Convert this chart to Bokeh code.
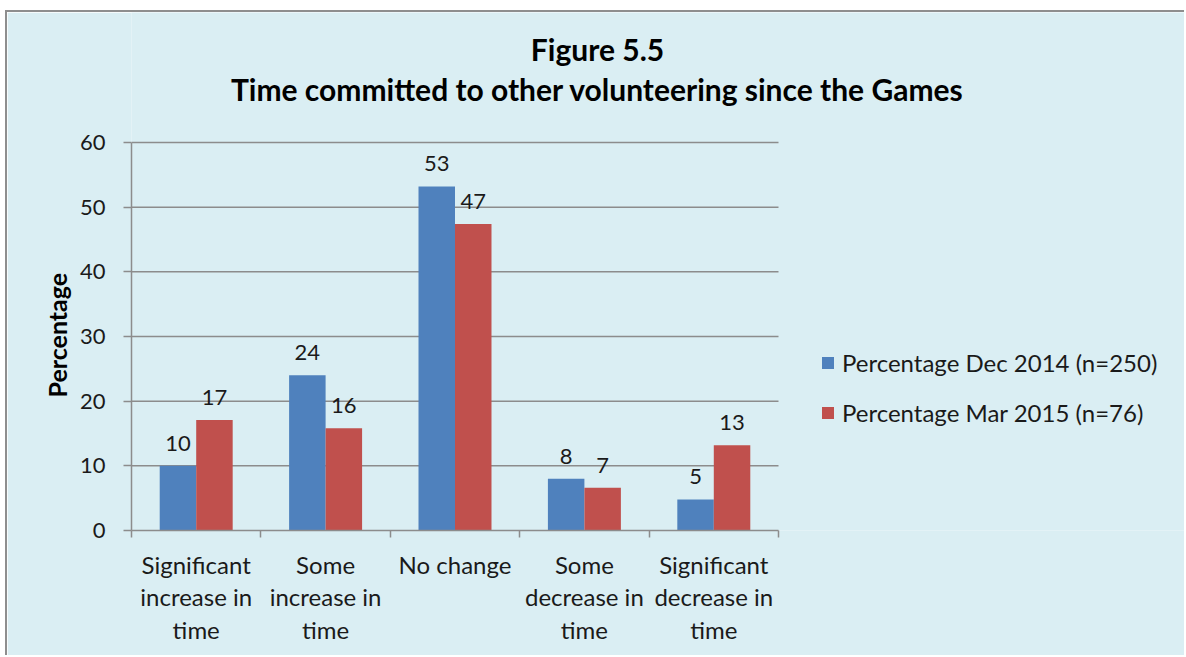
from bokeh.plotting import figure
from bokeh.models import (Range1d, FixedTicker, LinearAxis, Legend, LegendItem,
                          Label, ColumnDataSource, LabelSet, Title)
from bokeh.core.properties import value
from bokeh.embed import file_html
from bokeh.resources import INLINE

categories = ["Significant\nincrease in\ntime", "Some\nincrease in\ntime", "No change",
              "Some\ndecrease in\ntime", "Significant\ndecrease in\ntime"]
dec_2014 = [10.0, 24.0, 53.2, 8.0, 4.8]
mar_2015 = [17.1, 15.8, 47.4, 6.6, 13.2]
series_names = ["Percentage Dec 2014 (n=250)", "Percentage Mar 2015 (n=76)"]
title_lines = ["Figure 5.5", "Time committed to other volunteering since the Games"]
y_label = "Percentage"
y_ticks = [0, 10, 20, 30, 40, 50, 60]

FONT = "Lato"
BG = "#DAEEF3"
BLUE = "#4F81BD"
RED = "#C0504D"
GRID = "#8C8C8C"
TXT = "#1a1a1a"

n = len(categories)
W, H = 1179, 645
LEFT, BOTTOM = 124, 127
plot_w_px, plot_h_px = 647, 388
frame_w, frame_h = W - LEFT, H - BOTTOM
x_max = n * frame_w / plot_w_px
y_max = 60 * frame_h / plot_h_px

p = figure(width=W, height=H, output_backend="svg", toolbar_location=None,
           x_range=Range1d(0, x_max), y_range=Range1d(0, y_max),
           x_axis_type=None, y_axis_type=None,
           min_border_left=LEFT, min_border_right=0, min_border_top=0, min_border_bottom=BOTTOM,
           background_fill_color=BG, border_fill_color=BG, outline_line_color=None,
           styles={"position": "absolute", "left": "5px", "top": "10px",
                   "border-left": "2px solid #8E8E8E", "border-top": "2px solid #8E8E8E"})

yax = LinearAxis(ticker=FixedTicker(ticks=y_ticks), bounds=(0, 60),
                 axis_line_color=GRID, axis_line_width=1.5,
                 major_tick_line_color=GRID, major_tick_line_width=1.5,
                 major_tick_out=8, major_tick_in=0, minor_tick_out=0, minor_tick_in=0,
                 major_label_text_font=FONT, major_label_text_font_size="22px",
                 major_label_text_color=TXT, major_label_standoff=18)
p.add_layout(yax, "left")
p.add_layout(Title(text=y_label, align="left", offset=133, text_font=FONT,
                   text_font_size="25px", text_font_style="bold", text_color="black",
                   standoff=10), "left")

bounds_ticks = list(range(n + 1))
xax1 = LinearAxis(ticker=FixedTicker(ticks=bounds_ticks), bounds=(0, n),
                  axis_line_color=GRID, axis_line_width=1.5,
                  major_tick_line_color=GRID, major_tick_line_width=1.5,
                  major_tick_out=7, major_tick_in=0, minor_tick_out=0, minor_tick_in=0,
                  major_label_overrides={t: "" for t in bounds_ticks},
                  major_label_text_font_size="1px", major_label_standoff=0)
p.add_layout(xax1, "below")

centers = [i + 0.5 for i in range(n)]
xax2 = LinearAxis(ticker=FixedTicker(ticks=centers), bounds=(0, n),
                  major_label_overrides={c: lab for c, lab in zip(centers, categories)},
                  axis_line_color=None, major_tick_line_color=None, minor_tick_line_color=None,
                  major_label_text_font=FONT, major_label_text_font_size="24px",
                  major_label_text_color=TXT, major_label_text_line_height=1.13,
                  major_label_standoff=6)
p.add_layout(xax2, "below")

p.xgrid.visible = False
p.ygrid.visible = False
gsrc = ColumnDataSource(dict(y=y_ticks[1:], x0=[0] * (len(y_ticks) - 1), x1=[n] * (len(y_ticks) - 1)))
p.segment(x0="x0", y0="y", x1="x1", y1="y", source=gsrc, line_color=GRID, line_width=1.5)

bw = 0.282
src = ColumnDataSource(dict(
    xd=[c - bw / 2 for c in centers], xm=[c + bw / 2 for c in centers],
    dec=dec_2014, mar=mar_2015,
    dec_lab=[str(round(v)) for v in dec_2014], mar_lab=[str(round(v)) for v in mar_2015]))
r1 = p.vbar(x="xd", top="dec", width=bw, source=src, fill_color=BLUE, line_color=None)
r2 = p.vbar(x="xm", top="mar", width=bw, source=src, fill_color=RED, line_color=None)

for xcol, ycol, tcol in [("xd", "dec", "dec_lab"), ("xm", "mar", "mar_lab")]:
    p.add_layout(LabelSet(x=xcol, y=ycol, text=tcol, source=src, text_align="center",
                          text_baseline="bottom", y_offset=15, text_font=value(FONT),
                          text_font_size=value("22px"), text_color=TXT))

legend = Legend(items=[LegendItem(label=series_names[0], renderers=[r1]),
                       LegendItem(label=series_names[1], renderers=[r2])],
                location=(689, 103), orientation="vertical",
                glyph_width=15, glyph_height=15, label_standoff=7, spacing=21,
                padding=0, margin=0, border_line_color=None, background_fill_alpha=0,
                label_text_font=FONT, label_text_font_size="24px", label_text_color=TXT)
p.add_layout(legend, "center")

p.add_layout(Label(x=466, y=482, x_units="screen", y_units="screen", text=title_lines[0],
                   text_align="center", text_baseline="middle", text_font=FONT,
                   text_font_size="30px", text_font_style="bold", text_color="black"))
p.add_layout(Label(x=466, y=442, x_units="screen", y_units="screen", text=title_lines[1],
                   text_align="center", text_baseline="middle", text_font=FONT,
                   text_font_size="30px", text_font_style="bold", text_color="black"))

open("out.html", "w").write(file_html(p, INLINE))
